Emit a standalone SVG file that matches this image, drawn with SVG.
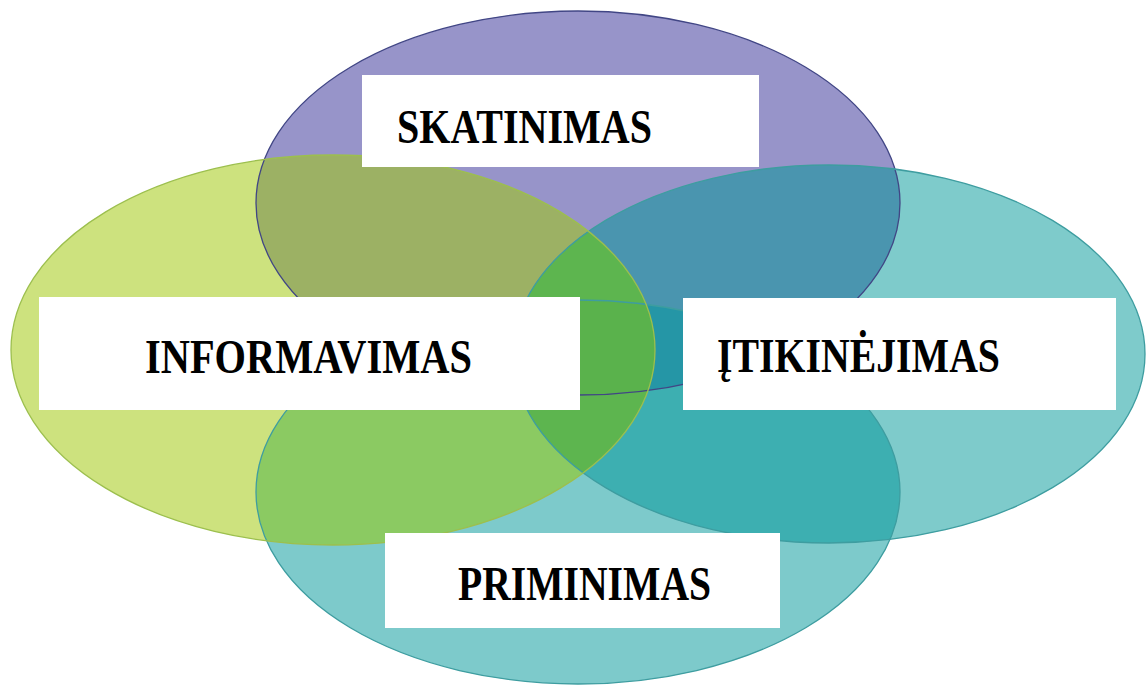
<svg xmlns="http://www.w3.org/2000/svg" width="1146" height="686" viewBox="0 0 1146 686">
  <style>
    .lbl { font-family: "Liberation Serif", "Times New Roman", serif; font-weight: bold; font-size: 49px; fill: #000000; }
    .box { fill: #ffffff; }
    .edge { fill: none; stroke-width: 1.3; }
  </style>
  <defs>
    <ellipse id="eT" cx="578" cy="203" rx="322" ry="192"/>
    <ellipse id="eL" cx="333" cy="350" rx="322" ry="195"/>
    <ellipse id="eR" cx="829" cy="354" rx="316" ry="189"/>
    <ellipse id="eB" cx="578" cy="492" rx="322" ry="192"/>
    <clipPath id="cT"><use href="#eT"/></clipPath>
    <clipPath id="cL"><use href="#eL"/></clipPath>
    <clipPath id="cR"><use href="#eR"/></clipPath>
    <clipPath id="cB"><use href="#eB"/></clipPath>
  </defs>
  <rect width="1146" height="686" fill="#ffffff"/>

  <g id="circle-skatinimas"><use href="#eT" fill="#9794C9"/></g>
  <g id="circle-priminimas"><use href="#eB" fill="#7DCACB"/></g>
  <g id="circle-itikinejimas"><use href="#eR" fill="#7ECBCB"/></g>
  <g id="circle-informavimas"><use href="#eL" fill="#CDE27E"/></g>

  <g id="overlaps">
    <g clip-path="url(#cT)"><use href="#eL" fill="#9CB164"/></g>
    <g clip-path="url(#cB)"><use href="#eL" fill="#8BCA62"/></g>
    <g clip-path="url(#cT)"><use href="#eR" fill="#4A95AF"/></g>
    <g clip-path="url(#cB)"><use href="#eR" fill="#3DAFB1"/></g>
    <g clip-path="url(#cT)"><g clip-path="url(#cR)"><use href="#eB" fill="#2596A6"/></g></g>
    <g clip-path="url(#cL)"><use href="#eR" fill="#5DB54F"/></g>
    <g clip-path="url(#cT)"><g clip-path="url(#cL)"><use href="#eB" fill="#5AB24C"/></g></g>
  </g>

  <g id="outlines">
    <use href="#eT" class="edge" stroke="#414685"/>
    <use href="#eB" class="edge" stroke="#3E9DA0"/>
    <use href="#eR" class="edge" stroke="#3E9DA0"/>
    <use href="#eL" class="edge" stroke="#9CBF4E"/>
  </g>

  <g id="node-skatinimas">
    <rect class="box" x="362" y="75" width="397" height="92"/>
    <text class="lbl" x="397" y="143" textLength="255" lengthAdjust="spacingAndGlyphs">SKATINIMAS</text>
  </g>
  <g id="node-informavimas">
    <rect class="box" x="39" y="297" width="541" height="113"/>
    <text class="lbl" x="145" y="373" textLength="327" lengthAdjust="spacingAndGlyphs">INFORMAVIMAS</text>
  </g>
  <g id="node-itikinejimas">
    <rect class="box" x="683" y="298" width="433" height="112"/>
    <text class="lbl" x="717" y="372" textLength="283" lengthAdjust="spacingAndGlyphs">ĮTIKINĖJIMAS</text>
  </g>
  <g id="node-priminimas">
    <rect class="box" x="385" y="533" width="395" height="95"/>
    <text class="lbl" x="458" y="600" textLength="253" lengthAdjust="spacingAndGlyphs">PRIMINIMAS</text>
  </g>
</svg>
